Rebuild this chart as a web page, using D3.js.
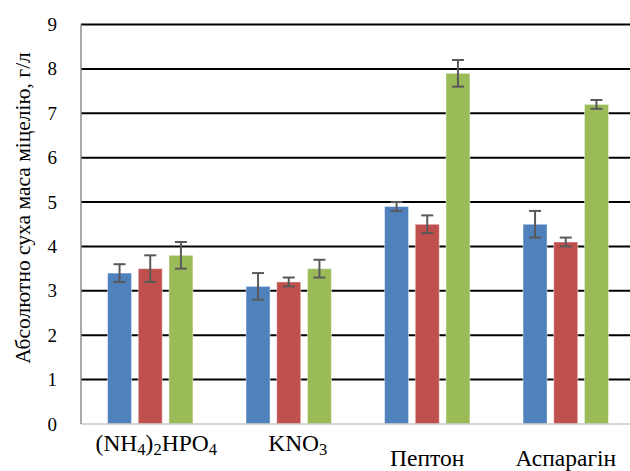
<!DOCTYPE html>
<html>
<head>
<meta charset="utf-8">
<script src="https://cdn.jsdelivr.net/npm/d3@7/dist/d3.min.js"></script>
<style>
  html, body { margin: 0; padding: 0; background: #fff; }
  svg { display: block; }
</style>
</head>
<body>
<svg id="chart" width="630" height="471" font-family="Liberation Serif"></svg>
<script>
// Nitrogen sources (category labels split into text / subscript parts)
const categories = ["(NH4)2HPO4", "KNO3", "Пептон", "Аспарагін"];
const categoryParts = [
  [["(NH", 0], ["4", 1], [")", 0], ["2", 1], ["HPO", 0], ["4", 1]],
  [["KNO", 0], ["3", 1]],
  [["Пептон", 0]],
  [["Аспарагін", 0]]
];
const series = ["s1", "s2", "s3"];
const seriesColors = ["#4F81BD", "#C0504D", "#9BBB59"];

// Dry mycelium mass, g/l, and error half-widths, one array per series
const values1 = [3.4, 3.1, 4.9, 4.5];
const values2 = [3.5, 3.2, 4.5, 4.1];
const values3 = [3.8, 3.5, 7.9, 7.2];
const errors1 = [0.2, 0.3, 0.1, 0.3];
const errors2 = [0.3, 0.1, 0.2, 0.1];
const errors3 = [0.3, 0.2, 0.3, 0.1];

const yTicks = [0, 1, 2, 3, 4, 5, 6, 7, 8, 9];
const yTitle = "Абсолютно суха маса міцелію, г/л";

const FONT = "Liberation Serif";

const valueSets = [values1, values2, values3];
const errorSets = [errors1, errors2, errors3];
const rows = [];
categories.forEach((c, ci) => {
  series.forEach((s, si) => {
    rows.push({ cat: c, ser: s, si, v: valueSets[si][ci], e: errorSets[si][ci] });
  });
});

const svg = d3.select("#chart");
const plot = { left: 81, right: 635, top: 24.5, bottom: 424 };

const y = d3.scaleLinear().domain([0, 9]).range([plot.bottom, plot.top]);
const x0 = d3.scaleBand().domain(categories).range([plot.left, plot.right]);
const x1 = d3.scaleBand().domain(series).range([0, x0.bandwidth()])
  .paddingInner(0.218).paddingOuter(0.865);

// Horizontal gridlines
svg.append("g")
  .selectAll("line")
  .data(yTicks.filter(t => t > 0))
  .join("line")
  .attr("x1", plot.left).attr("x2", 630)
  .attr("y1", d => y(d)).attr("y2", d => y(d))
  .attr("stroke", "#000").attr("stroke-width", 2);

// Bars
svg.append("g")
  .selectAll("rect")
  .data(rows)
  .join("rect")
  .attr("x", d => x0(d.cat) + x1(d.ser))
  .attr("y", d => y(d.v))
  .attr("width", x1.bandwidth())
  .attr("height", d => y(0) - y(d.v))
  .attr("fill", d => seriesColors[d.si])
  .attr("stroke", "rgba(255,255,255,0.45)")
  .attr("stroke-width", 1);

// Error bars
const eb = svg.append("g")
  .attr("stroke", "#595959").attr("stroke-width", 2).attr("fill", "none");
rows.forEach(d => {
  const cx = x0(d.cat) + x1(d.ser) + x1.bandwidth() / 2;
  const yt = y(d.v + d.e), yb = y(d.v - d.e);
  eb.append("line").attr("x1", cx).attr("x2", cx).attr("y1", yt).attr("y2", yb);
  eb.append("line").attr("x1", cx - 6).attr("x2", cx + 6).attr("y1", yt).attr("y2", yt);
  eb.append("line").attr("x1", cx - 6).attr("x2", cx + 6).attr("y1", yb).attr("y2", yb);
});

// Axis lines
svg.append("line")
  .attr("x1", plot.left).attr("x2", 630)
  .attr("y1", y(0)).attr("y2", y(0))
  .attr("stroke", "#c8c8c8").attr("stroke-width", 1.5);
svg.append("line")
  .attr("x1", plot.left).attr("x2", plot.left)
  .attr("y1", plot.top).attr("y2", plot.bottom)
  .attr("stroke", "#8c8c8c").attr("stroke-width", 1.5);

// Y tick labels
const yAxis = d3.axisLeft(y).tickValues(yTicks).tickSize(0).tickPadding(24)
  .tickFormat(d3.format("d"));
const yg = svg.append("g").attr("transform", `translate(${plot.left},0)`).call(yAxis);
yg.select(".domain").remove();
yg.attr("font-family", FONT).attr("font-size", 19);
yg.selectAll("text").attr("fill", "#000");

// Category labels
const labelShift = [6, 9, 0, 0];
const labelBase = [451, 451, 466, 466];
const xl = svg.append("g").attr("fill", "#000")
  .attr("font-family", FONT).attr("font-size", 23.5);
categories.forEach((c, ci) => {
  const t = xl.append("text")
    .attr("x", x0(c) + x0.bandwidth() / 2 + labelShift[ci])
    .attr("y", labelBase[ci])
    .attr("text-anchor", "middle");
  let prev = 0;
  categoryParts[ci].forEach(([txt, sub]) => {
    const sp = t.append("tspan").text(txt)
      .attr("dy", sub === prev ? 0 : (sub ? 4 : -4));
    if (sub) sp.attr("font-size", 16.5);
    prev = sub;
  });
});

// Y axis title
svg.append("text")
  .attr("transform", `translate(30, 208) rotate(-90)`)
  .attr("text-anchor", "middle")
  .attr("font-family", FONT)
  .attr("font-size", 21.5)
  .attr("fill", "#000")
  .text(yTitle);
</script>
</body>
</html>
